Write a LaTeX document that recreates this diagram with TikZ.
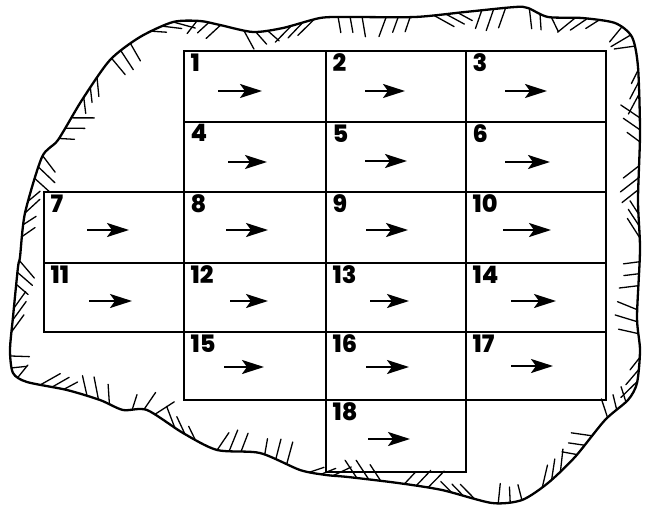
\documentclass[tikz,border=0pt]{standalone}
\usepackage{fontspec}
\setmainfont{Poppins}[BoldFont={Poppins ExtraBold}]
\usetikzlibrary{arrows.meta,decorations.markings,fit}
\begin{document}
\begin{tikzpicture}[x=1pt,y=-1pt,
  cell/.style={draw,line width=1.4pt,inner sep=0pt,fit=#1},
  num/.style={anchor=north west,inner sep=0pt,font=\fontsize{24}{24}\selectfont\bfseries},
  flow/.style={line width=2.2pt,arrows={-Stealth[length=22pt,width=14pt,inset=5pt]}},
  hatch/.style={line width=1.3pt,line cap=round},
  rock/.style={line width=2.3pt,line join=round,postaction={decorate},
    decoration={markings,mark=between positions 0 and 1 step 12pt with {%
      \pgfmathtruncatemacro\k{\pgfkeysvalueof{/pgf/decoration/mark info/sequence number}}%
      \pgfmathtruncatemacro\g{mod(floor(\k/4),11)}%
      \pgfmathtruncatemacro\m{mod(\k,4)}%
      \pgfmathtruncatemacro\kk{mod(\k,17)}%
      \ifnum\m<3
        \pgfmathsetmacro\ang{{-35,-115,-60,-140,-95,-30,-125,-50,-150,-80,-110}[\g]}%
        \pgfmathsetmacro\len{19+4*cos(\kk*71)}%
        \draw[hatch] (0pt,0pt) -- ++(\ang:\len pt);
      \fi}}}]
\useasboundingbox (0,0) rectangle (645,508);
% rock outline
\draw[rock] plot[smooth cycle,tension=0.45] coordinates {
 (20,257) (25,213) (42,157) (58,140) (82,100) (110,60) (140,37) (173,22) (200,21)
 (220,25) (253,32) (283,28) (320,18) (348,17) (415,17) (465,12) (515,7) (528,8)
 (548,17) (582,18) (615,23) (632,37) (638,67) (640,133) (638,200) (640,250)
 (637,317) (640,350) (637,383) (628,400) (605,420) (575,457) (548,483) (522,500)
 (492,503) (442,490) (398,483) (348,477) (326,475) (300,470) (260,453) (217,450)
 (183,433) (147,410) (123,410) (100,400) (67,390) (27,382) (13,373) (10,350)
 (13,317) (18,267)};
% cells: number / x0 / x1 / y0 / y1 / arrow start x / arrow end x / arrow y
\foreach \n/\xa/\xb/\ya/\yb/\sa/\sb/\ay in {
  1/184/326/51/122/218/262/91, 2/326/466/51/122/365/405/91, 3/466/606/51/122/505/547/91,
  4/184/326/122/192/228/267/162, 5/326/466/122/192/365/407/161, 6/466/606/122/192/505/550/162,
  7/44/184/192/263/87/129/230, 8/184/326/192/263/226/268/230, 9/326/466/192/263/366/408/230,
  10/466/606/192/263/503/551/230,
  11/44/184/263/332/89/132/301, 12/184/326/263/332/230/268/301, 13/326/466/263/332/370/409/301,
  14/466/606/263/332/511/556/301,
  15/184/326/332/400/224/264/367, 16/326/466/332/400/366/409/367, 17/466/606/332/400/511/553/366,
  18/326/466/400/472/368/410/439}{
  \coordinate (tl\n) at (\xa,\ya);
  \coordinate (br\n) at (\xb,\yb);
  \node[cell={(tl\n)(br\n)}] (c\n) {};
  \node[num] (n\n) at ([xshift=7pt,yshift=-3pt]c\n.north west) {\n};
  \coordinate (as\n) at (\sa,\ay);
  \coordinate (ae\n) at (\sb,\ay);
  \draw[flow] (as\n) -- (ae\n);
}
\end{tikzpicture}
\end{document}
